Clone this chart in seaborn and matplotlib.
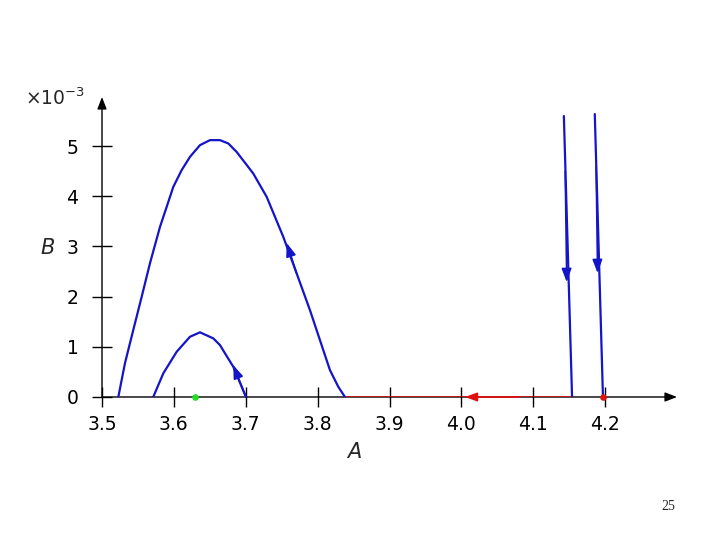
import numpy as np
import pandas as pd
import matplotlib
matplotlib.use("Agg")
import matplotlib.pyplot as plt
import seaborn as sns

sns.set_style("white")
plt.rcParams["font.family"] = ["DejaVu Sans"]

# 数据（B 以 1e-3 为单位）
big_A = [3.5227, 3.532, 3.5435, 3.5552, 3.5668, 3.5807, 3.590, 3.5992, 3.6108,
         3.6224, 3.6363, 3.6502, 3.6641, 3.6757, 3.6873, 3.7104, 3.7291, 3.7522,
         3.7708, 3.7893, 3.8032, 3.8171, 3.8287, 3.8380]
big_B = [0.0, 0.677, 1.335, 1.998, 2.669, 3.392, 3.791, 4.189, 4.522,
         4.787, 5.020, 5.120, 5.120, 5.054, 4.886, 4.456, 3.990, 3.193,
         2.464, 1.733, 1.135, 0.538, 0.205, 0.0]
small_A = [3.5713, 3.5853, 3.6039, 3.6224, 3.6363, 3.6548, 3.6641, 3.6711, 3.6826, 3.7003]
small_B = [0.0, 0.472, 0.902, 1.201, 1.289, 1.169, 1.036, 0.871, 0.604, 0.0]
line1_A = [4.1426, 4.154]
line1_B = [5.60, 0.0]
line2_A = [4.1856, 4.197]
line2_B = [5.64, 0.0]
red_A = [3.838, 4.154]
red_B = [0.0, 0.0]
green_pt = (3.629, 0.0)
red_pt = (4.197, 0.0)
x_ticks = [3.5, 3.6, 3.7, 3.8, 3.9, 4.0, 4.1, 4.2]
y_ticks = [0, 1, 2, 3, 4, 5]

blue = "#1414c8"
red = "#e01010"

fig = plt.figure(figsize=(7.2, 5.4), dpi=100)
ax = fig.add_axes([102 / 720, 143 / 540, 575 / 720, 300 / 540])
ax.set_xlim(3.5, 4.3)
ax.set_ylim(0, 5.98)
for s in ax.spines.values():
    s.set_visible(False)

# 坐标轴带箭头
axis_arrow = dict(arrowstyle="-|>,head_length=0.9,head_width=0.35", color="black", lw=1.0,
                  mutation_scale=8, shrinkA=0, shrinkB=0)
ax.annotate("", xy=(4.3, 0), xytext=(3.5, 0), arrowprops=axis_arrow, annotation_clip=False)
ax.annotate("", xy=(3.5, 5.98), xytext=(3.5, 0), arrowprops=axis_arrow, annotation_clip=False)

ax.plot(red_A, red_B, color=red, lw=1.2, zorder=3)

for a_vals, b_vals in [(big_A, big_B), (small_A, small_B), (line1_A, line1_B), (line2_A, line2_B)]:
    df = pd.DataFrame({"A": a_vals, "B": b_vals})
    sns.lineplot(data=df, x="A", y="B", sort=False, color=blue, lw=1.6, ax=ax,
                 estimator=None, zorder=4)


# 轨迹方向箭头
def flow_arrow(x0, y0, x1, y1, color, scale=9):
    ax.annotate("", xy=(x1, y1), xytext=(x0, y0),
                arrowprops=dict(arrowstyle="-|>,head_length=0.9,head_width=0.33", color=color,
                                lw=1.2, mutation_scale=scale, shrinkA=0, shrinkB=0), zorder=5)


flow_arrow(3.7708, 2.464, 3.757, 3.07, blue)
flow_arrow(3.7003, 0.0, 3.6826, 0.637, blue)
flow_arrow(4.1445, 4.5, 4.1466, 2.29, blue)
flow_arrow(4.1875, 4.6, 4.1895, 2.47, blue)
flow_arrow(4.08, 0.0, 4.005, 0.0, red, scale=8)

ax.scatter([green_pt[0]], [green_pt[1]], s=14, color="#22dd22", zorder=6, clip_on=False)
ax.scatter([red_pt[0]], [red_pt[1]], s=14, color=red, zorder=6, clip_on=False)

ax.set_xticks(x_ticks)
ax.set_xticklabels([f"{v:.1f}" for v in x_ticks])
ax.set_yticks(y_ticks)
ax.set_yticklabels([str(v) for v in y_ticks])
ax.tick_params(axis="both", direction="inout", length=14, width=1.0,
               labelsize=13.5, colors="black")
ax.tick_params(axis="x", pad=6)
ax.tick_params(axis="y", pad=10)
ax.tick_params(bottom=True, left=True)
ax.set_xlabel("")
ax.set_ylabel("")

fig.text(0.035, 1 - 98 / 540, r"$\times10^{-3}$", fontsize=13.5, va="center", ha="left")
fig.text(48 / 720, 1 - 248 / 540, "B", fontsize=15, style="italic", ha="center", va="center")
fig.text(354 / 720, 1 - 452 / 540, "A", fontsize=15, style="italic", ha="center", va="center")
fig.text(668 / 720, 1 - 506 / 540, "25", fontsize=10, family="Liberation Serif",
         ha="center", va="center")

fig.savefig("out.png", dpi=100)
